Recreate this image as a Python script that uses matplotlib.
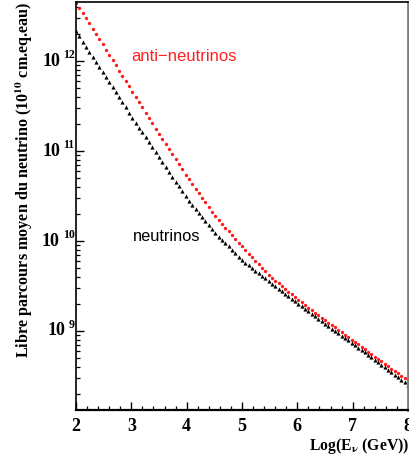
import numpy as np
import matplotlib
matplotlib.use("Agg")
import matplotlib.pyplot as plt
from matplotlib.ticker import LogLocator, NullFormatter, MultipleLocator, FixedLocator

# log10(E_nu / GeV)
log_e = [round(2.0 + 0.06 * i, 2) for i in range(101)]

# log10 of mean free path (10^10 cm water equivalent)
anti_log_mfp = [
    12.650, 12.592, 12.534, 12.476, 12.418, 12.359, 12.301, 12.243, 12.185, 12.126,
    12.068, 12.010, 11.952, 11.894, 11.835, 11.777, 11.719, 11.660, 11.602, 11.543,
    11.484, 11.425, 11.366, 11.308, 11.249, 11.190, 11.134, 11.077, 11.021, 10.964,
    10.908, 10.852, 10.795, 10.739, 10.686, 10.634, 10.582, 10.531, 10.479, 10.428,
    10.376, 10.324, 10.276, 10.234, 10.192, 10.150, 10.108, 10.066, 10.024, 9.982,
    9.940, 9.900, 9.861, 9.821, 9.782, 9.742, 9.702, 9.663, 9.623, 9.590,
    9.559, 9.528, 9.498, 9.467, 9.436, 9.406, 9.375, 9.346, 9.317, 9.289,
    9.261, 9.233, 9.205, 9.176, 9.148, 9.120, 9.093, 9.066, 9.039, 9.012,
    8.985, 8.958, 8.931, 8.904, 8.877, 8.850, 8.823, 8.796, 8.769, 8.742,
    8.715, 8.688, 8.661, 8.635, 8.608, 8.582, 8.556, 8.529, 8.503, 8.476,
    8.450,
]
nu_log_mfp = [
    12.330, 12.274, 12.217, 12.161, 12.104, 12.048, 11.992, 11.935, 11.879, 11.822,
    11.766, 11.710, 11.653, 11.597, 11.540, 11.484, 11.428, 11.372, 11.316, 11.261,
    11.206, 11.151, 11.096, 11.040, 10.985, 10.930, 10.876, 10.822, 10.768, 10.714,
    10.660, 10.606, 10.552, 10.498, 10.450, 10.404, 10.358, 10.313, 10.267, 10.222,
    10.176, 10.130, 10.088, 10.050, 10.013, 9.976, 9.939, 9.902, 9.864, 9.827,
    9.790, 9.761, 9.731, 9.702, 9.672, 9.643, 9.614, 9.584, 9.555, 9.526,
    9.498, 9.470, 9.442, 9.413, 9.385, 9.357, 9.329, 9.301, 9.273, 9.246,
    9.218, 9.190, 9.163, 9.135, 9.108, 9.080, 9.054, 9.027, 9.001, 8.974,
    8.948, 8.922, 8.895, 8.869, 8.842, 8.815, 8.788, 8.761, 8.734, 8.707,
    8.680, 8.653, 8.626, 8.598, 8.571, 8.543, 8.516, 8.488, 8.460, 8.433,
    8.405,
]

x_ticks = [2, 3, 4, 5, 6, 7, 8]
y_decades = [9, 10, 11, 12]

serif = ["Liberation Serif", "DejaVu Serif"]
sans = ["Liberation Sans", "DejaVu Sans"]
plt.rcParams["mathtext.fontset"] = "stix"

fig = plt.figure(figsize=(4.10, 4.59), dpi=100)
ax = fig.add_axes([76 / 410, 49 / 459, 332 / 410, 408 / 459])

ax.plot(log_e, 10 ** np.array(anti_log_mfp), linestyle="none", marker="o",
        markersize=2.4, markeredgewidth=0, color="#ff1a1a")
ax.plot(log_e, 10 ** np.array(nu_log_mfp), linestyle="none", marker="^",
        markersize=3.0, markeredgewidth=0, color="black")

ax.set_yscale("log")
ax.set_xlim(2, 8)
ax.set_ylim(10 ** 8.122, 10 ** 12.656)

ax.xaxis.set_major_locator(FixedLocator(x_ticks))
ax.xaxis.set_minor_locator(MultipleLocator(0.2))
ax.yaxis.set_major_locator(LogLocator(base=10))
ax.yaxis.set_minor_locator(LogLocator(base=10, subs=np.arange(2, 10)))
ax.yaxis.set_major_formatter(NullFormatter())
ax.yaxis.set_minor_formatter(NullFormatter())

ax.tick_params(axis="both", which="both", direction="in", top=False, right=False)
ax.tick_params(axis="x", which="major", length=6, width=1.0, pad=6)
ax.tick_params(axis="x", which="minor", length=3, width=0.9)
ax.tick_params(axis="y", which="major", length=6, width=1.0)
ax.tick_params(axis="y", which="minor", length=3, width=0.9)

ax.set_xticklabels([str(v) for v in x_ticks], fontfamily=serif,
                   fontweight="bold", fontsize=13)

for s in ["left", "top"]:
    ax.spines[s].set_linewidth(1.2)
ax.spines["bottom"].set_linewidth(1.6)
ax.spines["right"].set_linewidth(2.0)
ax.spines["right"].set_color("#7f7f7f")

# y tick labels: "10" with a raised exponent, right-aligned on the axis
fig.canvas.draw()
renderer = fig.canvas.get_renderer()
trans = ax.get_yaxis_transform()
for d in y_decades:
    exp_t = ax.text(-0.004, 10 ** d, str(d), transform=trans, ha="right",
                    va="bottom", fontsize=8.5, fontweight="bold", fontfamily=serif)
    bb = exp_t.get_window_extent(renderer=renderer)
    ax_bb = ax.get_window_extent(renderer=renderer)
    x_frac = (bb.x0 - 3 - ax_bb.x0) / ax_bb.width
    ax.text(x_frac, 10 ** d, "10", transform=trans, ha="right", va="center",
            fontsize=13, fontweight="bold", fontfamily=serif)

ax.text(3.0, 1e12, "anti\u2212neutrinos", color="#ff2020", fontsize=12,
        fontfamily=sans, va="baseline", ha="left")
ax.text(3.02, 1e10, "neutrinos", color="black", fontsize=11.8,
        fontfamily=sans, va="baseline", ha="left")

fig.text(24 / 410, 1 - 1 / 459,
         r"Libre parcours moyen du neutrino (10$^{\mathbf{10}}$ cm.eq.eau)",
         rotation=90, ha="center", va="top", fontsize=11.6, fontweight="bold",
         fontfamily=serif)
fig.text(409 / 410, 1 - 446 / 459, r"Log(E$_{\mathbf{\nu}}$ (GeV))",
         ha="right", va="center", fontsize=11.3, fontweight="bold",
         fontfamily=serif)

fig.savefig("out.png", dpi=100)
